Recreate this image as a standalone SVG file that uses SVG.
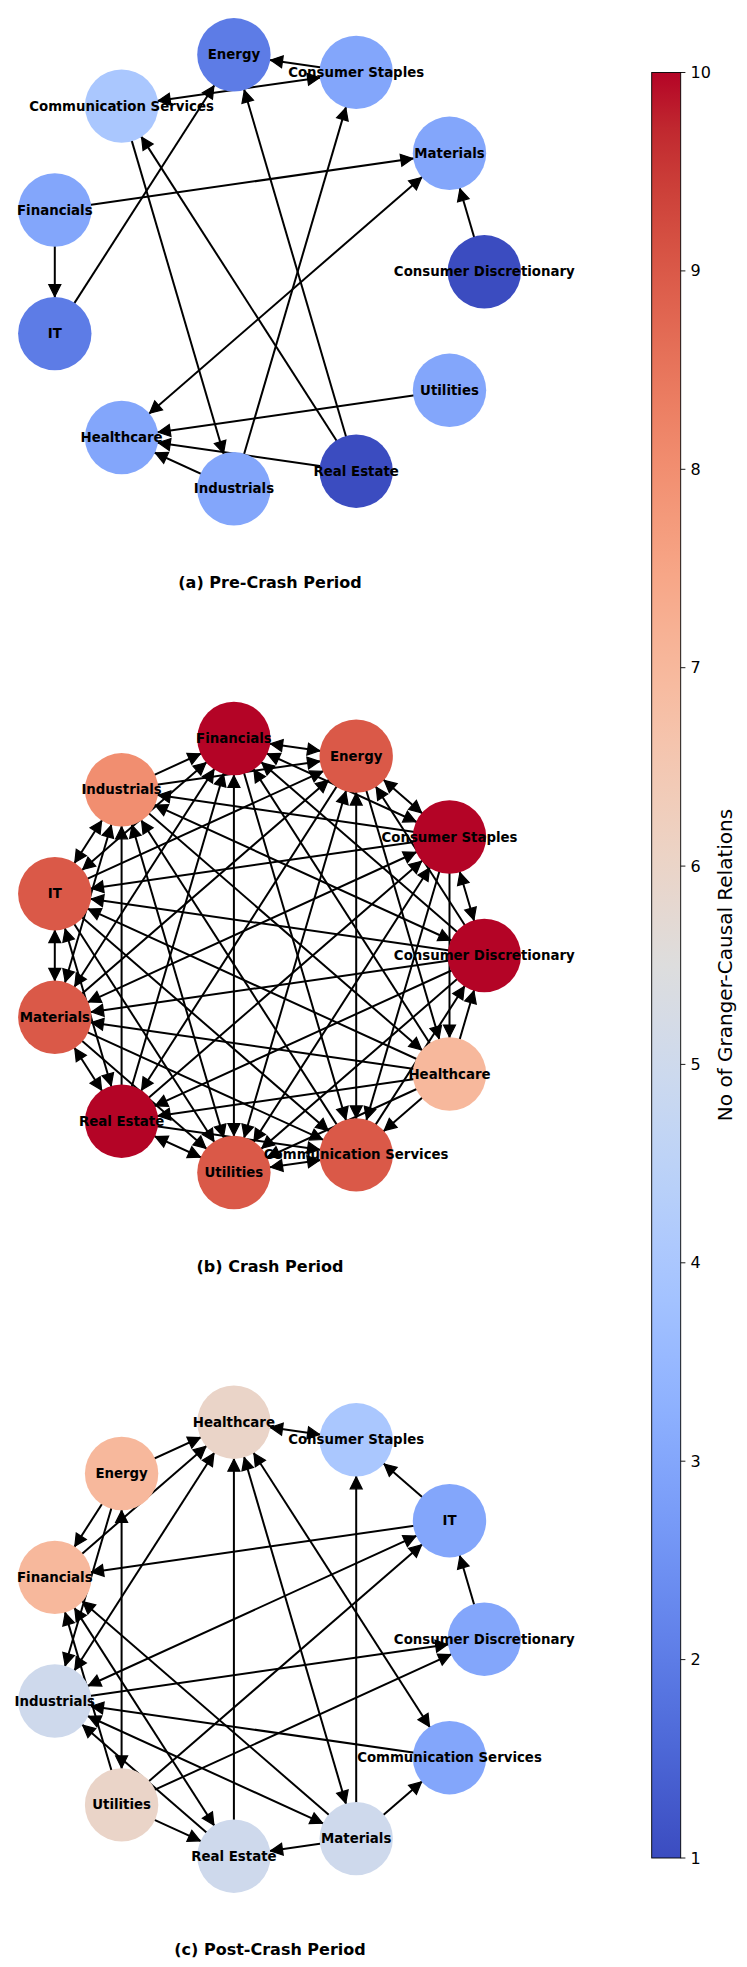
<svg xmlns="http://www.w3.org/2000/svg" width="747" height="1967" viewBox="0 0 747 1967">
<style>
.e{stroke:#000;stroke-width:2;fill:none;marker-end:url(#ah)}
.b{stroke:#000;stroke-width:2;fill:none;marker-end:url(#ah);marker-start:url(#ah)}
.l{font-family:"DejaVu Sans","Liberation Sans",sans-serif;font-weight:bold;font-size:13.33px;text-anchor:middle;dominant-baseline:central;fill:#000}
.t{font-family:"DejaVu Sans","Liberation Sans",sans-serif;font-weight:bold;font-size:16px;text-anchor:middle;dominant-baseline:central;fill:#000}
.k{font-family:"DejaVu Sans","Liberation Sans",sans-serif;font-size:16px;dominant-baseline:central;fill:#000}
.v1{fill:#3b4cc0}.v2{fill:#5d7ce6}.v3{fill:#83a6fb}.v4{fill:#aac7fe}.v5{fill:#ced9ec}.v6{fill:#ead4c8}.v7{fill:#f7b89c}.v8{fill:#f18e70}.v9{fill:#da5948}.v10{fill:#b40426}
</style>
<defs>
<marker id="ah" markerUnits="userSpaceOnUse" orient="auto-start-reverse" refX="37" refY="0" markerWidth="60" markerHeight="20" overflow="visible">
<path d="M0,0 L-12,-6 L-12,6 Z" fill="#000" stroke="#000" stroke-width="1.2"/>
</marker>
<linearGradient id="cw" x1="0" y1="1" x2="0" y2="0">
<stop offset="0" stop-color="rgb(59,76,192)"/><stop offset="0.03125" stop-color="rgb(68,90,204)"/><stop offset="0.0625" stop-color="rgb(77,104,215)"/><stop offset="0.09375" stop-color="rgb(87,117,225)"/><stop offset="0.125" stop-color="rgb(98,130,234)"/><stop offset="0.15625" stop-color="rgb(108,142,241)"/><stop offset="0.1875" stop-color="rgb(119,154,247)"/><stop offset="0.21875" stop-color="rgb(130,165,251)"/><stop offset="0.25" stop-color="rgb(141,176,254)"/><stop offset="0.28125" stop-color="rgb(152,185,255)"/><stop offset="0.3125" stop-color="rgb(163,194,255)"/><stop offset="0.34375" stop-color="rgb(174,201,253)"/><stop offset="0.375" stop-color="rgb(184,208,249)"/><stop offset="0.40625" stop-color="rgb(194,213,244)"/><stop offset="0.4375" stop-color="rgb(204,217,238)"/><stop offset="0.46875" stop-color="rgb(213,219,230)"/><stop offset="0.5" stop-color="rgb(221,221,221)"/><stop offset="0.53125" stop-color="rgb(229,216,209)"/><stop offset="0.5625" stop-color="rgb(236,211,197)"/><stop offset="0.59375" stop-color="rgb(241,204,185)"/><stop offset="0.625" stop-color="rgb(245,196,173)"/><stop offset="0.65625" stop-color="rgb(247,187,160)"/><stop offset="0.6875" stop-color="rgb(247,177,148)"/><stop offset="0.71875" stop-color="rgb(247,166,135)"/><stop offset="0.75" stop-color="rgb(244,154,123)"/><stop offset="0.78125" stop-color="rgb(241,141,111)"/><stop offset="0.8125" stop-color="rgb(236,127,99)"/><stop offset="0.84375" stop-color="rgb(229,112,88)"/><stop offset="0.875" stop-color="rgb(222,96,77)"/><stop offset="0.90625" stop-color="rgb(213,80,66)"/><stop offset="0.9375" stop-color="rgb(203,62,56)"/><stop offset="0.96875" stop-color="rgb(192,40,47)"/><stop offset="1" stop-color="rgb(180,4,38)"/>
</linearGradient>
</defs>
<rect width="747" height="1967" fill="#fff"/>

<!-- Panel (a) -->
<g id="connectors-a">
<line class="e" x1="356.2" y1="72.4" x2="233.9" y2="54.8"/>
<line class="b" x1="121.6" y1="106.1" x2="356.2" y2="72.4"/>
<line class="e" x1="54.8" y1="333.6" x2="233.9" y2="54.8"/>
<line class="e" x1="54.8" y1="210" x2="449.5" y2="153.3"/>
<line class="e" x1="54.8" y1="210" x2="54.8" y2="333.6"/>
<line class="e" x1="484.3" y1="271.8" x2="449.5" y2="153.3"/>
<line class="e" x1="121.6" y1="106.1" x2="233.9" y2="488.8"/>
<line class="e" x1="356.2" y1="471.2" x2="121.6" y2="106.1"/>
<line class="e" x1="356.2" y1="471.2" x2="233.9" y2="54.8"/>
<line class="e" x1="233.9" y1="488.8" x2="356.2" y2="72.4"/>
<line class="b" x1="449.5" y1="153.3" x2="121.6" y2="437.5"/>
<line class="e" x1="449.5" y1="390.3" x2="121.6" y2="437.5"/>
<line class="e" x1="356.2" y1="471.2" x2="121.6" y2="437.5"/>
<line class="e" x1="233.9" y1="488.8" x2="121.6" y2="437.5"/>
</g>
<g id="a-consumer-discretionary"><circle class="v1" cx="484.3" cy="271.8" r="36.7"/><text class="l" x="484.3" y="271.8">Consumer Discretionary</text></g>
<g id="a-materials"><circle class="v3" cx="449.5" cy="153.3" r="36.7"/><text class="l" x="449.5" y="153.3">Materials</text></g>
<g id="a-energy"><circle class="v2" cx="233.9" cy="54.8" r="36.7"/><text class="l" x="233.9" y="54.8">Energy</text></g>
<g id="a-consumer-staples"><circle class="v3" cx="356.2" cy="72.4" r="36.7"/><text class="l" x="356.2" y="72.4">Consumer Staples</text></g>
<g id="a-communication-services"><circle class="v4" cx="121.6" cy="106.1" r="36.7"/><text class="l" x="121.6" y="106.1">Communication Services</text></g>
<g id="a-financials"><circle class="v3" cx="54.8" cy="210" r="36.7"/><text class="l" x="54.8" y="210">Financials</text></g>
<g id="a-it"><circle class="v2" cx="54.8" cy="333.6" r="36.7"/><text class="l" x="54.8" y="333.6">IT</text></g>
<g id="a-healthcare"><circle class="v3" cx="121.6" cy="437.5" r="36.7"/><text class="l" x="121.6" y="437.5">Healthcare</text></g>
<g id="a-industrials"><circle class="v3" cx="233.9" cy="488.8" r="36.7"/><text class="l" x="233.9" y="488.8">Industrials</text></g>
<g id="a-real-estate"><circle class="v1" cx="356.2" cy="471.2" r="36.7"/><text class="l" x="356.2" y="471.2">Real Estate</text></g>
<g id="a-utilities"><circle class="v3" cx="449.5" cy="390.3" r="36.7"/><text class="l" x="449.5" y="390.3">Utilities</text></g>
<text class="t" x="270" y="582.5">(a) Pre-Crash Period</text>

<!-- Panel (b) -->
<g id="connectors-b">
<line class="b" x1="484.3" y1="955.5" x2="449.5" y2="837"/>
<line class="b" x1="449.5" y1="837" x2="356.2" y2="756.1"/>
<line class="b" x1="356.2" y1="756.1" x2="233.9" y2="738.5"/>
<line class="b" x1="121.6" y1="789.8" x2="54.8" y2="893.7"/>
<line class="b" x1="54.8" y1="893.7" x2="54.8" y2="1017.3"/>
<line class="b" x1="54.8" y1="1017.3" x2="121.6" y2="1121.2"/>
<line class="b" x1="121.6" y1="1121.2" x2="233.9" y2="1172.5"/>
<line class="b" x1="233.9" y1="1172.5" x2="356.2" y2="1154.9"/>
<line class="b" x1="449.5" y1="837" x2="233.9" y2="738.5"/>
<line class="b" x1="233.9" y1="738.5" x2="54.8" y2="893.7"/>
<line class="b" x1="121.6" y1="789.8" x2="54.8" y2="1017.3"/>
<line class="b" x1="54.8" y1="893.7" x2="121.6" y2="1121.2"/>
<line class="b" x1="233.9" y1="738.5" x2="54.8" y2="1017.3"/>
<line class="b" x1="484.3" y1="955.5" x2="121.6" y2="789.8"/>
<line class="b" x1="121.6" y1="789.8" x2="233.9" y2="1172.5"/>
<line class="b" x1="449.5" y1="837" x2="233.9" y2="1172.5"/>
<line class="b" x1="356.2" y1="1154.9" x2="356.2" y2="756.1"/>
<line class="b" x1="449.5" y1="837" x2="54.8" y2="1017.3"/>
<line class="b" x1="233.9" y1="738.5" x2="233.9" y2="1172.5"/>
<line class="b" x1="233.9" y1="1172.5" x2="356.2" y2="756.1"/>
<line class="e" x1="121.6" y1="789.8" x2="233.9" y2="738.5"/>
<line class="e" x1="449.5" y1="1074" x2="356.2" y2="1154.9"/>
<line class="e" x1="449.5" y1="1074" x2="484.3" y2="955.5"/>
<line class="e" x1="484.3" y1="955.5" x2="356.2" y2="756.1"/>
<line class="e" x1="121.6" y1="789.8" x2="356.2" y2="756.1"/>
<line class="e" x1="54.8" y1="1017.3" x2="233.9" y2="1172.5"/>
<line class="e" x1="121.6" y1="1121.2" x2="356.2" y2="1154.9"/>
<line class="e" x1="449.5" y1="1074" x2="233.9" y2="1172.5"/>
<line class="e" x1="356.2" y1="1154.9" x2="484.3" y2="955.5"/>
<line class="e" x1="449.5" y1="837" x2="449.5" y2="1074"/>
<line class="e" x1="484.3" y1="955.5" x2="233.9" y2="738.5"/>
<line class="e" x1="449.5" y1="837" x2="121.6" y2="789.8"/>
<line class="e" x1="54.8" y1="893.7" x2="356.2" y2="756.1"/>
<line class="e" x1="121.6" y1="1121.2" x2="121.6" y2="789.8"/>
<line class="e" x1="54.8" y1="893.7" x2="233.9" y2="1172.5"/>
<line class="e" x1="54.8" y1="1017.3" x2="356.2" y2="1154.9"/>
<line class="e" x1="449.5" y1="1074" x2="121.6" y2="1121.2"/>
<line class="e" x1="484.3" y1="955.5" x2="233.9" y2="1172.5"/>
<line class="e" x1="449.5" y1="837" x2="356.2" y2="1154.9"/>
<line class="e" x1="356.2" y1="756.1" x2="449.5" y2="1074"/>
<line class="e" x1="449.5" y1="837" x2="54.8" y2="893.7"/>
<line class="e" x1="54.8" y1="1017.3" x2="356.2" y2="756.1"/>
<line class="e" x1="121.6" y1="1121.2" x2="233.9" y2="738.5"/>
<line class="e" x1="54.8" y1="893.7" x2="356.2" y2="1154.9"/>
<line class="e" x1="449.5" y1="1074" x2="54.8" y2="1017.3"/>
<line class="e" x1="484.3" y1="955.5" x2="121.6" y2="1121.2"/>
<line class="e" x1="449.5" y1="1074" x2="233.9" y2="738.5"/>
<line class="e" x1="484.3" y1="955.5" x2="54.8" y2="893.7"/>
<line class="e" x1="356.2" y1="756.1" x2="121.6" y2="1121.2"/>
<line class="e" x1="356.2" y1="1154.9" x2="121.6" y2="789.8"/>
<line class="e" x1="449.5" y1="1074" x2="54.8" y2="893.7"/>
<line class="e" x1="484.3" y1="955.5" x2="54.8" y2="1017.3"/>
<line class="e" x1="121.6" y1="1121.2" x2="449.5" y2="837"/>
<line class="e" x1="233.9" y1="738.5" x2="356.2" y2="1154.9"/>
<line class="e" x1="121.6" y1="789.8" x2="449.5" y2="1074"/>
</g>
<g id="b-financials"><circle class="v10" cx="233.9" cy="738.5" r="36.7"/><text class="l" x="233.9" y="738.5">Financials</text></g>
<g id="b-energy"><circle class="v9" cx="356.2" cy="756.1" r="36.7"/><text class="l" x="356.2" y="756.1">Energy</text></g>
<g id="b-industrials"><circle class="v8" cx="121.6" cy="789.8" r="36.7"/><text class="l" x="121.6" y="789.8">Industrials</text></g>
<g id="b-consumer-staples"><circle class="v10" cx="449.5" cy="837" r="36.7"/><text class="l" x="449.5" y="837">Consumer Staples</text></g>
<g id="b-it"><circle class="v9" cx="54.8" cy="893.7" r="36.7"/><text class="l" x="54.8" y="893.7">IT</text></g>
<g id="b-consumer-discretionary"><circle class="v10" cx="484.3" cy="955.5" r="36.7"/><text class="l" x="484.3" y="955.5">Consumer Discretionary</text></g>
<g id="b-materials"><circle class="v9" cx="54.8" cy="1017.3" r="36.7"/><text class="l" x="54.8" y="1017.3">Materials</text></g>
<g id="b-healthcare"><circle class="v7" cx="449.5" cy="1074" r="36.7"/><text class="l" x="449.5" y="1074">Healthcare</text></g>
<g id="b-real-estate"><circle class="v10" cx="121.6" cy="1121.2" r="36.7"/><text class="l" x="121.6" y="1121.2">Real Estate</text></g>
<g id="b-utilities"><circle class="v9" cx="233.9" cy="1172.5" r="36.7"/><text class="l" x="233.9" y="1172.5">Utilities</text></g>
<g id="b-communication-services"><circle class="v9" cx="356.2" cy="1154.9" r="36.7"/><text class="l" x="356.2" y="1154.9">Communication Services</text></g>
<text class="t" x="270" y="1266.2">(b) Crash Period</text>

<!-- Panel (c) -->
<g id="connectors-c">
<line class="b" x1="233.9" y1="1422.2" x2="356.2" y2="1439.8"/>
<line class="e" x1="449.5" y1="1520.7" x2="356.2" y2="1439.8"/>
<line class="e" x1="356.2" y1="1838.6" x2="356.2" y2="1439.8"/>
<line class="e" x1="484.3" y1="1639.2" x2="449.5" y2="1520.7"/>
<line class="e" x1="121.6" y1="1473.5" x2="233.9" y2="1422.2"/>
<line class="e" x1="54.8" y1="1577.4" x2="233.9" y2="1422.2"/>
<line class="b" x1="54.8" y1="1701" x2="233.9" y2="1422.2"/>
<line class="e" x1="233.9" y1="1856.2" x2="233.9" y2="1422.2"/>
<line class="b" x1="356.2" y1="1838.6" x2="233.9" y2="1422.2"/>
<line class="b" x1="449.5" y1="1757.7" x2="233.9" y2="1422.2"/>
<line class="e" x1="121.6" y1="1473.5" x2="54.8" y2="1577.4"/>
<line class="e" x1="121.6" y1="1473.5" x2="54.8" y2="1701"/>
<line class="b" x1="121.6" y1="1473.5" x2="121.6" y2="1804.9"/>
<line class="e" x1="449.5" y1="1520.7" x2="54.8" y2="1577.4"/>
<line class="b" x1="54.8" y1="1701" x2="449.5" y2="1520.7"/>
<line class="e" x1="121.6" y1="1804.9" x2="449.5" y2="1520.7"/>
<line class="e" x1="54.8" y1="1701" x2="484.3" y2="1639.2"/>
<line class="e" x1="121.6" y1="1804.9" x2="484.3" y2="1639.2"/>
<line class="e" x1="449.5" y1="1757.7" x2="54.8" y2="1701"/>
<line class="e" x1="356.2" y1="1838.6" x2="449.5" y2="1757.7"/>
<line class="e" x1="356.2" y1="1838.6" x2="233.9" y2="1856.2"/>
<line class="e" x1="121.6" y1="1804.9" x2="233.9" y2="1856.2"/>
<line class="b" x1="54.8" y1="1701" x2="356.2" y2="1838.6"/>
<line class="e" x1="233.9" y1="1856.2" x2="54.8" y2="1701"/>
<line class="b" x1="54.8" y1="1577.4" x2="233.9" y2="1856.2"/>
<line class="e" x1="356.2" y1="1838.6" x2="54.8" y2="1577.4"/>
<line class="e" x1="121.6" y1="1804.9" x2="54.8" y2="1577.4"/>
</g>
<g id="c-healthcare"><circle class="v6" cx="233.9" cy="1422.2" r="36.7"/><text class="l" x="233.9" y="1422.2">Healthcare</text></g>
<g id="c-consumer-staples"><circle class="v4" cx="356.2" cy="1439.8" r="36.7"/><text class="l" x="356.2" y="1439.8">Consumer Staples</text></g>
<g id="c-energy"><circle class="v7" cx="121.6" cy="1473.5" r="36.7"/><text class="l" x="121.6" y="1473.5">Energy</text></g>
<g id="c-it"><circle class="v3" cx="449.5" cy="1520.7" r="36.7"/><text class="l" x="449.5" y="1520.7">IT</text></g>
<g id="c-financials"><circle class="v7" cx="54.8" cy="1577.4" r="36.7"/><text class="l" x="54.8" y="1577.4">Financials</text></g>
<g id="c-consumer-discretionary"><circle class="v3" cx="484.3" cy="1639.2" r="36.7"/><text class="l" x="484.3" y="1639.2">Consumer Discretionary</text></g>
<g id="c-industrials"><circle class="v5" cx="54.8" cy="1701" r="36.7"/><text class="l" x="54.8" y="1701">Industrials</text></g>
<g id="c-communication-services"><circle class="v3" cx="449.5" cy="1757.7" r="36.7"/><text class="l" x="449.5" y="1757.7">Communication Services</text></g>
<g id="c-utilities"><circle class="v6" cx="121.6" cy="1804.9" r="36.7"/><text class="l" x="121.6" y="1804.9">Utilities</text></g>
<g id="c-real-estate"><circle class="v5" cx="233.9" cy="1856.2" r="36.7"/><text class="l" x="233.9" y="1856.2">Real Estate</text></g>
<g id="c-materials"><circle class="v5" cx="356.2" cy="1838.6" r="36.7"/><text class="l" x="356.2" y="1838.6">Materials</text></g>
<text class="t" x="270" y="1949.9">(c) Post-Crash Period</text>

<!-- Colorbar -->
<g id="colorbar">
<rect x="651.7" y="72.5" width="29" height="1785.5" fill="url(#cw)" stroke="#000" stroke-width="0.9"/>
<g stroke="#000" stroke-width="0.9">
<line x1="680.7" y1="72.5" x2="685.4" y2="72.5"/>
<line x1="680.7" y1="270.9" x2="685.4" y2="270.9"/>
<line x1="680.7" y1="469.3" x2="685.4" y2="469.3"/>
<line x1="680.7" y1="667.7" x2="685.4" y2="667.7"/>
<line x1="680.7" y1="866.1" x2="685.4" y2="866.1"/>
<line x1="680.7" y1="1064.4" x2="685.4" y2="1064.4"/>
<line x1="680.7" y1="1262.8" x2="685.4" y2="1262.8"/>
<line x1="680.7" y1="1461.2" x2="685.4" y2="1461.2"/>
<line x1="680.7" y1="1659.6" x2="685.4" y2="1659.6"/>
<line x1="680.7" y1="1858" x2="685.4" y2="1858"/>
</g>
<text class="k" x="690.5" y="72.5">10</text>
<text class="k" x="690.5" y="270.9">9</text>
<text class="k" x="690.5" y="469.3">8</text>
<text class="k" x="690.5" y="667.7">7</text>
<text class="k" x="690.5" y="866.1">6</text>
<text class="k" x="690.5" y="1064.4">5</text>
<text class="k" x="690.5" y="1262.8">4</text>
<text class="k" x="690.5" y="1461.2">3</text>
<text class="k" x="690.5" y="1659.6">2</text>
<text class="k" x="690.5" y="1858">1</text>
<text transform="translate(732,965) rotate(-90)" font-family="DejaVu Sans, Liberation Sans, sans-serif" font-size="20" text-anchor="middle">No of Granger-Causal Relations</text>
</g>
</svg>
